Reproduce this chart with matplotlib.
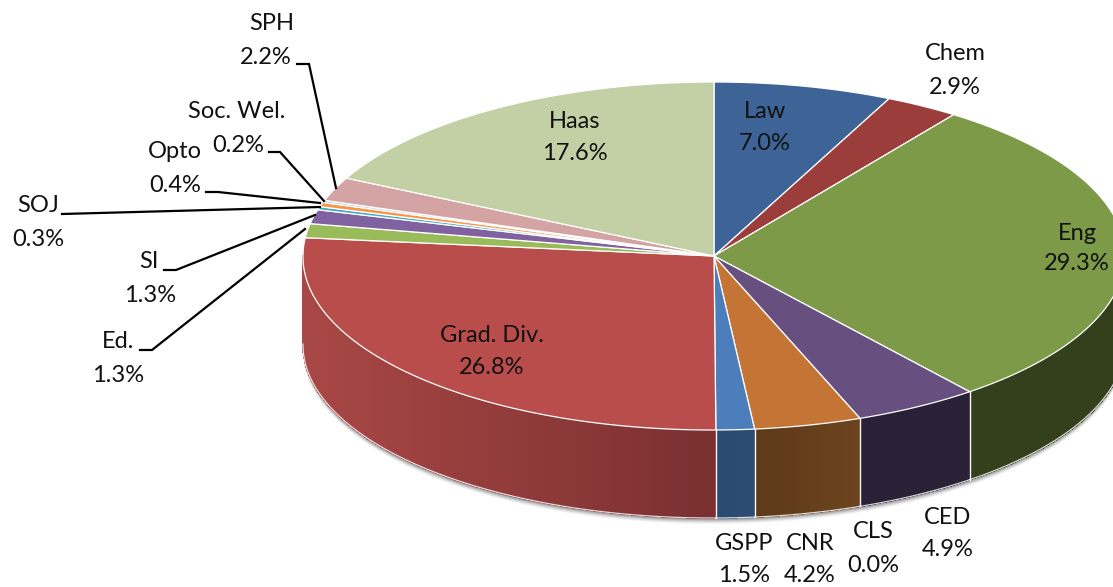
# -*- coding: utf-8 -*-
# 3D style pie chart, drawn by hand because matplotlib pie has no depth
import numpy as np
import matplotlib
matplotlib.use('Agg')
import matplotlib.pyplot as plt
from matplotlib.collections import PolyCollection

plt.rcParams['font.family'] = ['Lato', 'DejaVu Sans']

# 数据 (clockwise from the top)
names = ['Law', 'Chem', 'Eng', 'CED', 'CLS', 'CNR', 'GSPP', 'Grad. Div.',
         'Ed.', 'SI', 'SOJ', 'Opto', 'Soc. Wel.', 'SPH', 'Haas']
values = [7.0, 2.9, 29.3, 4.9, 0.0, 4.2, 1.5, 26.8, 1.3, 1.3, 0.3, 0.4, 0.2, 2.2, 17.6]
top_colors = ['#3E6497', '#9B3D3B', '#7C9A48', '#67507F', '#7F7F7F', '#C47535', '#4B7EBB',
              '#B94D4B', '#9ABB59', '#8062A0', '#4BACC6', '#F79646', '#C0CDE3', '#D3A4A3', '#C3CFA5']
# side wall colours: (left end, right end) of the gradient
side_colors = {'Eng': ('#343F1B', '#343F1B'), 'CED': ('#2A2137', '#2A2137'),
               'CNR': ('#5E3A19', '#6C431E'), 'GSPP': ('#2B4A6E', '#2C4D73'),
               'Grad. Div.': ('#A84846', '#7A2F30')}

# label centres in pixels, name line then percent line
label_pos = {'Law': (765, 112, 765, 144), 'Chem': (955, 54, 955, 87), 'Eng': (1077, 233, 1077, 264),
             'CED': (948, 517, 948, 550), 'CLS': (873, 531, 873, 565), 'CNR': (810, 544, 810, 576),
             'GSPP': (744, 543, 744, 575), 'Grad. Div.': (492, 335, 492, 368), 'Haas': (575, 121, 575, 154),
             'SPH': (272, 24, 266, 57), 'Soc. Wel.': (237, 112, 238, 145), 'Opto': (175, 152, 175, 185),
             'SOJ': (38, 205, 38, 240), 'SI': (149, 261, 150, 295), 'Ed.': (118, 342, 118, 375)}
leaders = [[(297, 64), (309, 64), (336, 188)],
           [(269, 152), (280, 152), (324, 201)],
           [(206, 192), (218, 192), (320, 203)],
           [(62, 214), (320, 207)],
           [(164, 270), (176, 270), (315, 215)],
           [(140, 350), (152, 350), (305, 229)]]

cx, cy, rx, ry, depth = 714, 256, 411, 174, 88


def rim(t):
    # t in degrees clockwise from the top of the ellipse
    # front of the ellipse leans 2 px to the left, as in the perspective of the original
    t = np.radians(t)
    y = cy - ry * np.cos(t)
    x = cx + rx * np.sin(t) - 2 * np.clip((y - cy) / ry, 0, 1)
    return x, y


fig = plt.figure(figsize=(11.13, 5.87), dpi=100)
ax = fig.add_axes([0, 0, 1, 1])
ax.set_xlim(0, 1113)
ax.set_ylim(587, 0)
ax.axis('off')

edges = np.cumsum([0] + values)
edges = edges / edges[-1] * 360

# soft shadow under the wall
front = np.linspace(90, 270, 200)
fx, fy = rim(front)
for off, alpha in zip([6, 5, 4, 3, 2, 1], [0.04, 0.06, 0.08, 0.10, 0.14, 0.18]):
    ax.fill(np.r_[fx, fx[::-1]], np.r_[fy, (fy + depth + off)[::-1]], color='black',
            alpha=alpha, lw=0, zorder=1)

# side walls
for name, a, b in zip(names, edges[:-1], edges[1:]):
    if name not in side_colors or b <= a:
        continue
    a, b = max(a, 90), min(b, 270)
    ts = np.linspace(a, b, max(int((b - a) * 3), 2))
    xs, ys = rim(ts)
    c_left = np.array(matplotlib.colors.to_rgb(side_colors[name][0]))
    c_right = np.array(matplotlib.colors.to_rgb(side_colors[name][1]))
    polys, cols = [], []
    for i in range(len(ts) - 1):
        polys.append([(xs[i], ys[i]), (xs[i + 1], ys[i + 1]),
                      (xs[i + 1], ys[i + 1] + depth), (xs[i], ys[i] + depth)])
        f = ((xs[i] + xs[i + 1]) / 2 - xs.min()) / (xs.max() - xs.min())
        cols.append(c_left + (c_right - c_left) * f)
    ax.add_collection(PolyCollection(polys, facecolors=cols, edgecolors=cols, linewidths=0.5,
                                     antialiaseds=False, zorder=2))
    # white seams on the wall
    for t in (a, b):
        if t in (90, 270):
            continue
        px, py = rim(t)
        ax.plot([px, px], [py, py + depth], color='white', lw=0.9, alpha=0.8, zorder=3)
    ax.plot(xs, ys + depth, color='white', lw=0.9, alpha=0.8, zorder=3)

# top face
for name, col, a, b in zip(names, top_colors, edges[:-1], edges[1:]):
    if b <= a:
        continue
    xs, ys = rim(np.linspace(a, b, max(int(b - a) * 2, 4)))
    ax.fill(np.r_[cx, xs], np.r_[cy, ys], facecolor=col, edgecolor='white', lw=0.9, zorder=4)

# leader lines
for pts in leaders:
    ax.plot([p[0] for p in pts], [p[1] for p in pts], color='black', lw=1.6, zorder=5,
            solid_joinstyle='miter')

# labels
for name, v in zip(names, values):
    x1, y1, x2, y2 = label_pos[name]
    ax.text(x1, y1, name, ha='center', va='center', fontsize=17, color='#111111', zorder=6)
    ax.text(x2, y2, '%.1f%%' % v, ha='center', va='center', fontsize=17, color='#111111', zorder=6)

fig.savefig('out.png', dpi=100)
